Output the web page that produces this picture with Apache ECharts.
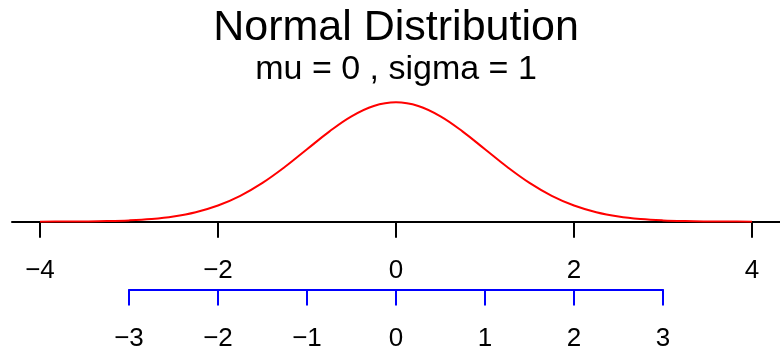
<!DOCTYPE html>
<html>
<head>
<meta charset="utf-8">
<script src="https://cdn.jsdelivr.net/npm/echarts@6/dist/echarts.min.js"></script>
<style>
  html, body { margin: 0; padding: 0; background: #fff; }
  #chart { width: 780px; height: 352px; }
</style>
</head>
<body>
<div id="chart"></div>
<script>
// Standard normal density, sampled every 0.25 from -4 to 4
const xValues = [-4, -3.75, -3.5, -3.25, -3, -2.75, -2.5, -2.25, -2, -1.75, -1.5, -1.25, -1, -0.75, -0.5, -0.25,
                 0, 0.25, 0.5, 0.75, 1, 1.25, 1.5, 1.75, 2, 2.25, 2.5, 2.75, 3, 3.25, 3.5, 3.75, 4];
const density = [0.0001, 0.0004, 0.0009, 0.002, 0.0044, 0.0091, 0.0175, 0.0317, 0.054, 0.0863, 0.1295, 0.1826,
                 0.242, 0.3011, 0.3521, 0.3867, 0.3989, 0.3867, 0.3521, 0.3011, 0.242, 0.1826, 0.1295, 0.0863,
                 0.054, 0.0317, 0.0175, 0.0091, 0.0044, 0.002, 0.0009, 0.0004, 0.0001];
// x-axis ticks (value scale) and the sigma scale below it
const xTicks = [-4, -2, 0, 2, 4];
const sigmaTicks = [-3, -2, -1, 0, 1, 2, 3];

const titleText = 'Normal Distribution';
const subtitleText = 'mu = 0 , sigma = 1';

const FONT = 'Liberation Sans, Arial, Helvetica, sans-serif';
const minus = v => String(v).replace('-', '\u2212');

const chart = echarts.init(document.getElementById('chart'), null, { renderer: 'canvas' });

chart.setOption({
  animation: false,
  backgroundColor: '#ffffff',
  title: [
    {
      text: titleText,
      left: 396, textAlign: 'center', top: 7, padding: 0,
      textStyle: { fontFamily: FONT, fontWeight: 'normal', fontSize: 43, color: '#000', lineHeight: 43 }
    },
    {
      text: subtitleText,
      left: 396, textAlign: 'center', top: 53, padding: 0,
      textStyle: { fontFamily: FONT, fontWeight: 'normal', fontSize: 34, color: '#000', lineHeight: 34 }
    }
  ],
  grid: [
    // plotting region for the density curve
    { left: 40, width: 712, top: 102, bottom: 130.3 },
    // full-width baseline
    { left: 12, right: 0, top: 102, bottom: 130.3 },
    // sigma scale
    { left: 129, width: 534, top: 280, bottom: 62.5 }
  ],
  xAxis: [
    {
      gridIndex: 0, type: 'value', min: -4, max: 4, interval: 2,
      axisLine: { show: false },
      axisTick: { show: true, inside: false, length: 16, lineStyle: { color: '#000', width: 2 } },
      axisLabel: {
        margin: 36, fontFamily: FONT, fontSize: 26, color: '#000',
        formatter: v => xTicks.includes(v) ? minus(v) : ''
      },
      splitLine: { show: false }
    },
    {
      gridIndex: 1, type: 'value', min: 0, max: 1,
      axisLine: { show: true, lineStyle: { color: '#000', width: 2 } },
      axisTick: { show: false }, axisLabel: { show: false }, splitLine: { show: false }
    },
    {
      gridIndex: 2, type: 'value', min: -3, max: 3, interval: 1,
      axisLine: { show: true, lineStyle: { color: '#0000ff', width: 2 } },
      axisTick: { show: true, length: 16, lineStyle: { color: '#0000ff', width: 2 } },
      axisLabel: {
        margin: 36.5, fontFamily: FONT, fontSize: 26, color: '#000',
        formatter: v => sigmaTicks.includes(v) ? minus(v) : ''
      },
      splitLine: { show: false }
    }
  ],
  yAxis: [
    { gridIndex: 0, type: 'value', min: 0, max: 0.4, show: false },
    { gridIndex: 1, type: 'value', min: 0, max: 1, show: false },
    { gridIndex: 2, type: 'value', min: 0, max: 1, show: false }
  ],
  series: [
    {
      type: 'line',
      xAxisIndex: 0, yAxisIndex: 0,
      data: xValues.map((x, i) => [x, density[i]]),
      smooth: 0.4,
      showSymbol: false,
      z: 5,
      lineStyle: { color: '#ff0000', width: 2 }
    }
  ]
});
</script>
</body>
</html>
